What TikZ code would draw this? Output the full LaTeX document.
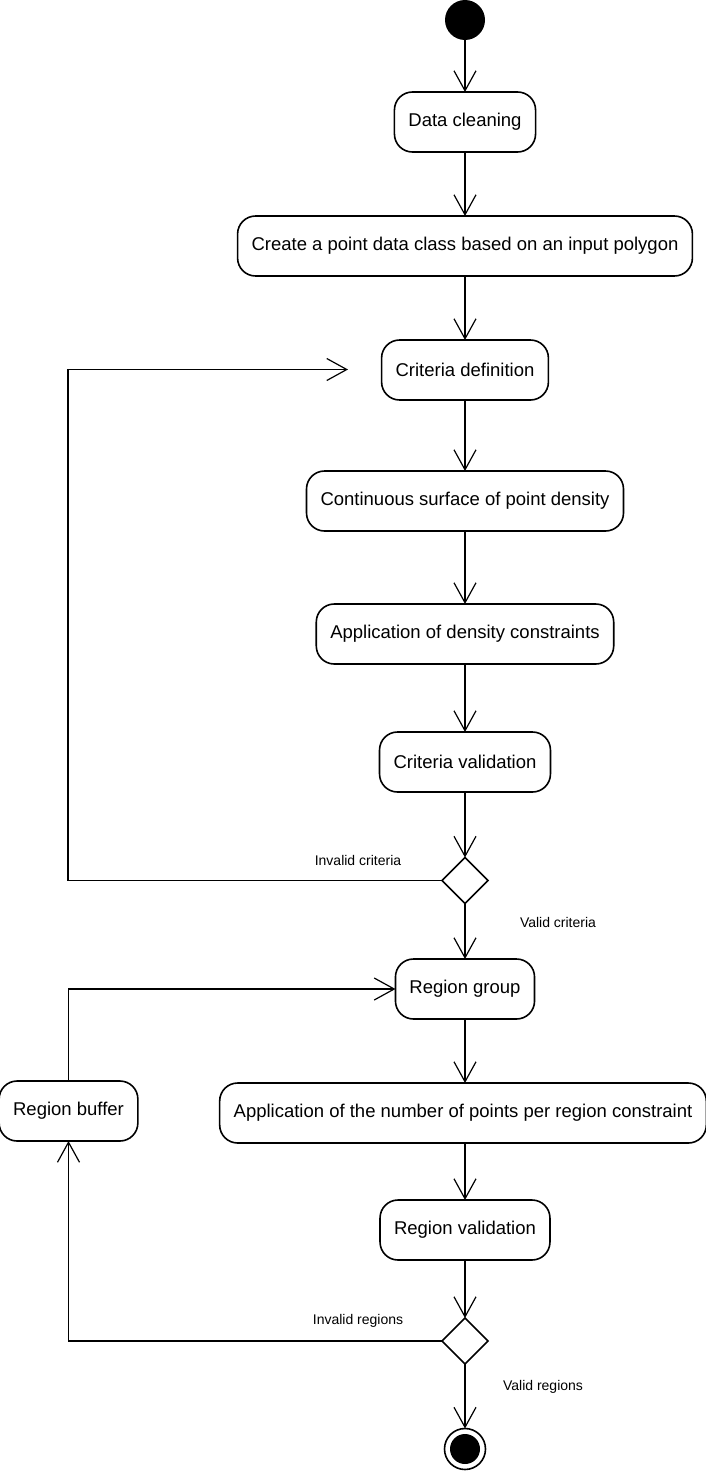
\documentclass[tikz,border=0pt]{standalone}
\usepackage{fontspec}
\setmainfont{Liberation Sans}
\usetikzlibrary{shapes.geometric,arrows.meta,positioning}

\begin{document}
\begin{tikzpicture}[
  x=0.5pt, y=-0.5pt,
  act/.style={draw, rounded corners=9pt, minimum height=30pt, inner xsep=7pt,
              outer sep=0pt, font=\fontsize{9.25}{11}\selectfont, line width=0.8pt},
  dec/.style={draw, diamond, aspect=1, minimum size=23pt, inner sep=0pt,
              outer sep=0pt, line width=0.8pt},
  lbl/.style={font=\fontsize{7}{8}\selectfont},
  flow/.style={-{Straight Barb[length=10pt,width=11pt]}, line width=0.6pt},
  node distance=32pt
]
\useasboundingbox (0,0) rectangle (706,1472);

\node[circle, fill, minimum size=20pt, inner sep=0pt, outer sep=0pt] (start) at (465,20) {};
\node[act, below=26pt of start] (clean) {Data cleaning};
\node[act, below=32pt of clean] (pdc) {Create a point data class based on an input polygon};
\node[act, below=32pt of pdc] (crit) {Criteria definition};
\node[act, below=35.5pt of crit] (surf) {Continuous surface of point density};
\node[act, below=36.5pt of surf] (dens) {Application of density constraints};
\node[act, below=34pt of dens] (cval) {Criteria validation};
\node[dec, below=32.75pt of cval] (dec1) {};
\node[act, below=27.75pt of dec1] (rgrp) {Region group};
\node[act, below=32pt of rgrp, xshift=-1pt] (npts) {Application of the number of points per region constraint};
\node[act, below=28.5pt of npts, xshift=1pt] (rval) {Region validation};
\node[dec, below=29pt of rval] (dec2) {};
\node[circle, draw, line width=0.8pt, minimum size=20.5pt, inner sep=0pt, outer sep=0pt,
      path picture={\fill (path picture bounding box.center) circle (7.5pt);},
      below=32.25pt of dec2] (stop) {};

\node[act] (rbuf) at (68.5,1111) {Region buffer};

\node[lbl] (invc) at (358,860) {Invalid criteria};
\node[lbl] (valc) at (558,922) {Valid criteria};
\node[lbl] (invr) at (358,1321) {Invalid regions};
\node[lbl] (valr) at (543,1387) {Valid regions};

\coordinate (critin) at (348,369.5);

\draw[flow] (start) -- (clean);
\draw[flow] (clean) -- (pdc);
\draw[flow] (pdc) -- (crit);
\draw[flow] (crit) -- (surf);
\draw[flow] (surf) -- (dens);
\draw[flow] (dens) -- (cval);
\draw[flow] (cval) -- (dec1);
\draw[flow] (dec1) -- (rgrp);
\draw[flow] (rgrp) -- (rgrp |- npts.north);
\draw[flow] (rval |- npts.south) -- (rval);
\draw[flow] (rval) -- (dec2);
\draw[flow] (dec2) -- (stop);

% loops back
\draw[flow] (dec1.west) -- ++(-374,0) |- (critin);
\draw[flow] (dec2.west) -| (rbuf.south);
\draw[flow] (rbuf.north) |- (rgrp.west);
\end{tikzpicture}
\end{document}
